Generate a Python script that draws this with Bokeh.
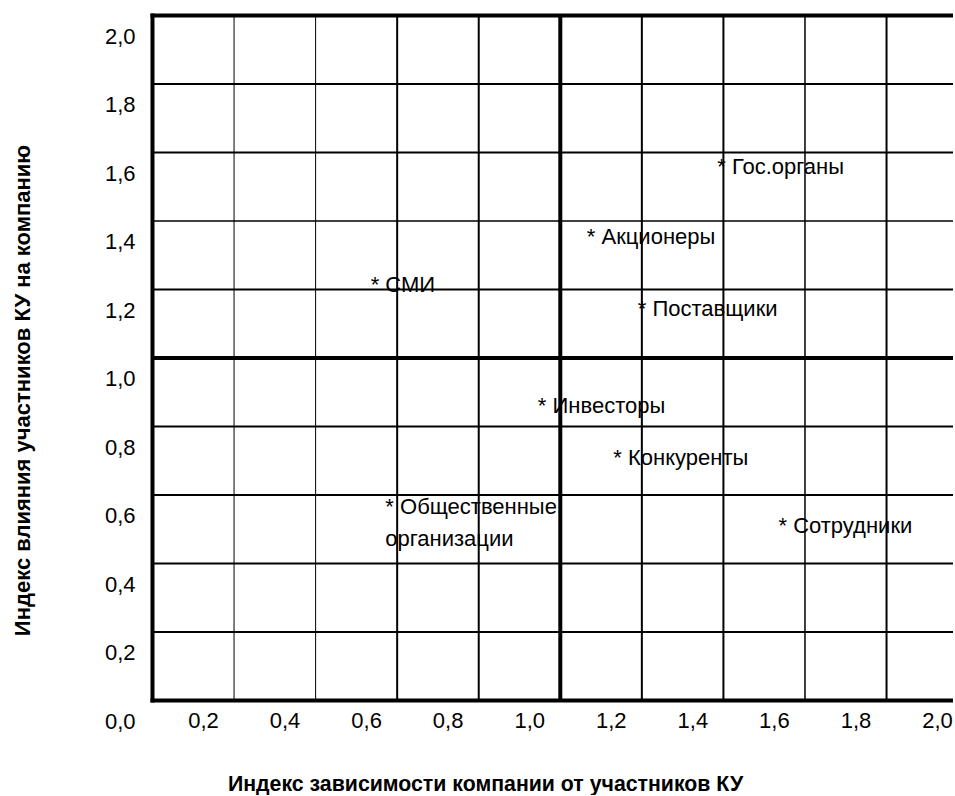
import math
from bokeh.plotting import figure
from bokeh.models import Range1d, FixedTicker, ColumnDataSource
from bokeh.core.properties import value
from bokeh.embed import file_html
from bokeh.resources import INLINE

# ---- data ----
names = ["* Гос.органы", "* Акционеры", "* СМИ", "* Поставщики", "* Инвесторы",
         "* Конкуренты", "* Общественные\nорганизации", "* Сотрудники"]
dep_index = [1.46, 1.14, 0.61, 1.265, 1.02, 1.205, 0.646, 1.61]      # x
infl_index = [1.62, 1.415, 1.275, 1.205, 0.92, 0.77, 0.58, 0.57]      # y

x_ticks = [0.2, 0.4, 0.6, 0.8, 1.0, 1.2, 1.4, 1.6, 1.8, 2.0]
x_tick_labels = ["0,2", "0,4", "0,6", "0,8", "1,0", "1,2", "1,4", "1,6", "1,8", "2,0"]
y_ticks = [0.0, 0.2, 0.4, 0.6, 0.8, 1.0, 1.2, 1.4, 1.6, 1.8, 2.0]
y_tick_labels = ["0,0", "0,2", "0,4", "0,6", "0,8", "1,0", "1,2", "1,4", "1,6", "1,8", "2,0"]

x_title = "Индекс зависимости компании от участников КУ"
y_title = "Индекс влияния участников КУ на компанию"

# ---- layout constants ----
FONT = "Liberation Sans"
FS = "22px"
XS, XE = -0.2977, 2.0392      # full canvas range (x)
YS, YE = -0.2173, 2.1038      # full canvas range (y)
X0 = 0.075                    # plot-area left border (grid origin)
Y0, Y1 = 0.06, 2.06           # plot-area bottom / top border
PX = 2 / 407.8                # ~2 px in x data units
PY = 2 / 342.5                # ~2 px in y data units
XT_POS = (0.8916, -0.1838)    # x title centre
YT_POS = (-0.2437, 0.9651)    # y title centre
vgrid_w = [1, 1, 2, 2, 4, 2, 2, 1.5, 2]
hgrid_w = [2, 2, 2, 2, 4, 2, 1.5, 2, 2]

p = figure(frame_width=953, frame_height=795,
           x_range=Range1d(XS, XE), y_range=Range1d(YS, YE),
           output_backend="svg", toolbar_location=None,
           min_border_left=0, min_border_right=0,
           min_border_top=0, min_border_bottom=0)
p.outline_line_color = None
p.grid.visible = False
p.background_fill_color = "white"
p.border_fill_color = "white"

for ax, ticks, labels in ((p.xaxis[0], x_ticks, x_tick_labels),
                          (p.yaxis[0], y_ticks, y_tick_labels)):
    ax.ticker = FixedTicker(ticks=ticks)
    ax.major_label_overrides = dict(zip(ticks, labels))
    ax.axis_line_color = None
    ax.major_tick_line_color = None
    ax.minor_tick_line_color = None
    ax.major_tick_out = 0
    ax.major_tick_in = 0
    ax.major_label_text_font = FONT
    ax.major_label_text_font_size = FS
    ax.major_label_text_color = "black"
p.xaxis[0].major_label_standoff = -83
p.yaxis[0].major_label_standoff = -135

# grid lines (offset from the tick labels as in the original) and borders
gx0, gy0, gx1, gy1, gw = [], [], [], [], []
for k, w in enumerate(vgrid_w, start=1):
    gx0.append(X0 + 0.2 * k); gx1.append(X0 + 0.2 * k)
    gy0.append(Y0); gy1.append(Y1); gw.append(w)
for k, w in enumerate(hgrid_w, start=1):
    gx0.append(X0); gx1.append(XE + 0.05)
    gy0.append(Y0 + 0.2 * k); gy1.append(Y0 + 0.2 * k); gw.append(w)
# left, bottom, top borders
gx0 += [X0, X0 - PX, X0 - PX]
gx1 += [X0, XE + 0.05, XE + 0.05]
gy0 += [Y0 - PY, Y0, Y1]
gy1 += [Y1 + PY, Y0, Y1]
gw += [4, 4, 4]
p.segment(x0="x0", y0="y0", x1="x1", y1="y1", line_width="w", line_color="black",
          source=ColumnDataSource(dict(x0=gx0, y0=gy0, x1=gx1, y1=gy1, w=gw)))

src = ColumnDataSource(dict(x=dep_index, y=infl_index, name=names))
p.text(x="x", y="y", text="name", source=src,
       text_font=value(FONT), text_font_size=FS, text_color="black",
       text_align="left", text_baseline="middle", text_line_height=1.3)

# axis titles
p.text(x=[XT_POS[0]], y=[XT_POS[1]], text=[x_title],
       text_font=value(FONT), text_font_size="21.3px", text_font_style="bold",
       text_color="black", text_align="center", text_baseline="middle")
p.text(x=[YT_POS[0]], y=[YT_POS[1]], text=[y_title], angle=math.pi / 2,
       text_font=value(FONT), text_font_size="22px", text_font_style="bold",
       text_color="black", text_align="center", text_baseline="middle")

open("out.html", "w").write(file_html(p, INLINE))
